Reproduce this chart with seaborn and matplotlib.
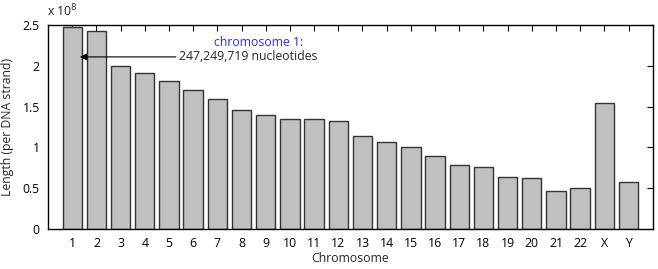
import matplotlib
matplotlib.use("Agg")
import matplotlib.pyplot as plt
import seaborn as sns
import pandas as pd
from matplotlib.ticker import FuncFormatter, FixedLocator

chromosomes = [str(i) for i in range(1, 23)] + ["X", "Y"]
lengths = [247249719, 242951149, 199501827, 191273063, 180857866, 170899992,
           158821424, 146274826, 140273252, 135374737, 134452384, 132349534,
           114142980, 106368585, 100338915, 88827254, 78774742, 76117153,
           63811651, 62435964, 46944323, 49691432, 154913754, 57772954]
yticks = [0, 0.5e8, 1e8, 1.5e8, 2e8, 2.5e8]

sns.set_style("white")
plt.rcParams['font.family'] = ['Open Sans', 'DejaVu Sans']
plt.rcParams['font.size'] = 8.8

df = pd.DataFrame({"Chromosome": chromosomes, "Length": lengths})

fig = plt.figure(figsize=(6.58, 2.69), dpi=100)
ax = fig.add_axes([0.073, 0.149, 0.919, 0.758])
sns.barplot(data=df, x="Chromosome", y="Length", order=chromosomes,
            color="#c0c0c0", saturation=1, width=0.8,
            edgecolor="#333333", linewidth=1, ax=ax)
ax.set_xlim(-1, len(chromosomes))
ax.set_ylim(0, 2.5e8)
ax.yaxis.set_major_locator(FixedLocator(yticks))
ax.yaxis.set_major_formatter(FuncFormatter(lambda v, p: f"{v/1e8:g}"))
ax.tick_params(direction="in", top=True, right=True, length=4, width=0.8,
               colors="black", labelsize=8.8, pad=6)
for s in ax.spines.values():
    s.set_visible(True)
    s.set_color("black")
    s.set_linewidth(1)
ax.set_xlabel("Chromosome", fontsize=8.8, labelpad=1)
ax.set_ylabel("Length (per DNA strand)", fontsize=8.8, labelpad=6)
ax.text(-0.002, 1.03, r"x 10$^{8}$", transform=ax.transAxes, fontsize=8.8,
        ha="left", va="bottom")

ax.annotate("", xy=(0.2, lengths[0] * 0.853), xytext=(4.4, lengths[0] * 0.853),
            arrowprops=dict(arrowstyle="-|>", color="black", lw=0.8,
                            mutation_scale=10))
ax.text(4.4, lengths[0] * 0.853, f"{lengths[0]:,} nucleotides", fontsize=8.8,
        ha="left", va="center")
ax.text(7.7, lengths[0] * 0.853 + 0.18e8, "chromosome 1:", fontsize=8.8,
        ha="center", va="center", color="#2b2bff")

fig.savefig("out.png", dpi=100)
